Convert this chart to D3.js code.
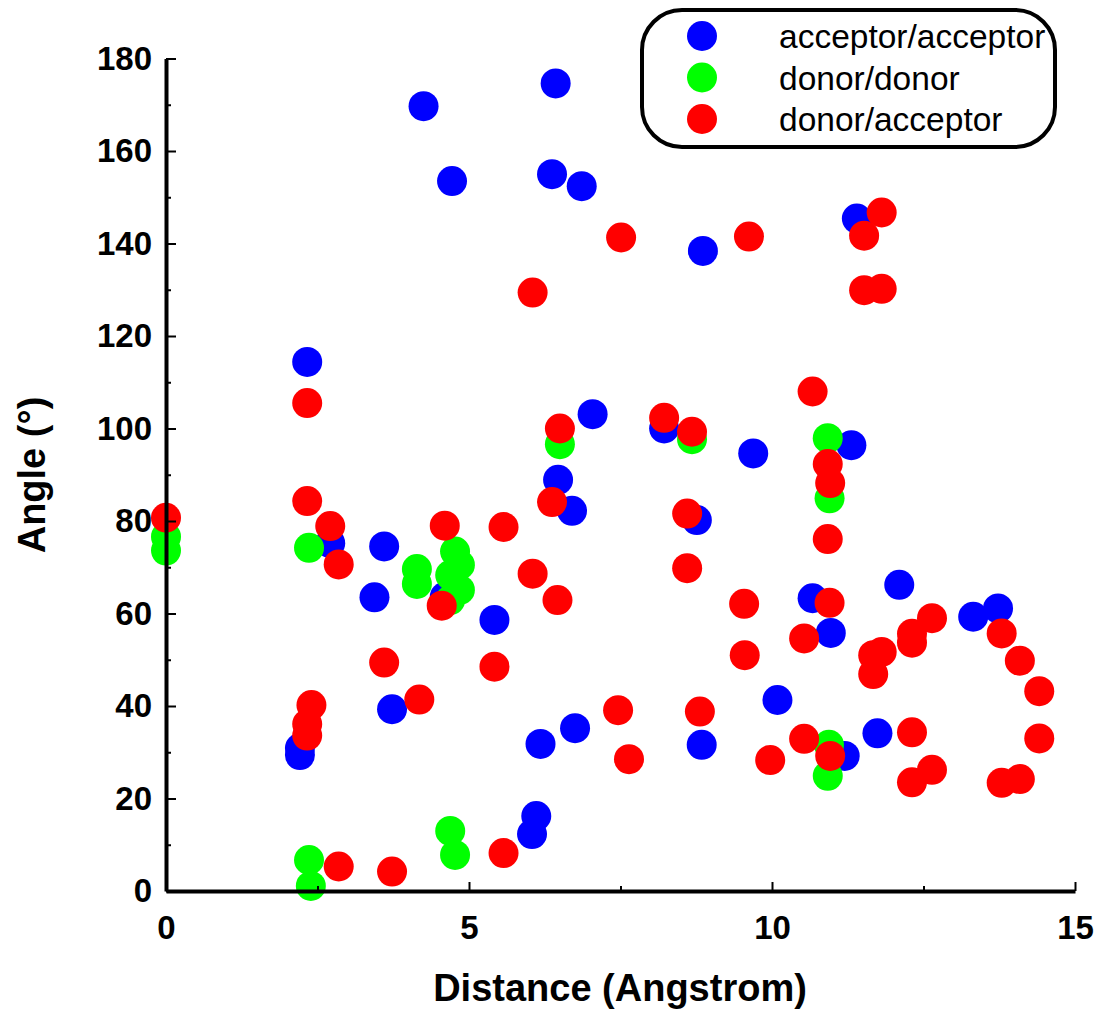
<!DOCTYPE html>
<html>
<head>
<meta charset="utf-8">
<script src="https://cdn.jsdelivr.net/npm/d3@7"></script>
<style>
  html, body { margin: 0; padding: 0; background: #fff; }
  svg { display: block; }
</style>
</head>
<body>
<svg id="chart" width="1099" height="1011"></svg>
<script>
// ---- data: [distance (Angstrom), angle (deg)] ----
const seriesNames = ["acceptor/acceptor", "donor/donor", "donor/acceptor"];
const seriesColors = ["#0000ff", "#00ff00", "#ff0000"];

const acceptorAcceptor = [
  [4.25,169.7],[6.43,174.6],[4.72,153.5],[6.37,155.0],[6.86,152.4],[8.86,138.4],
  [11.40,145.4],[2.33,114.4],[2.71,75.2],[3.60,74.5],[3.44,63.5],[4.60,63.6],
  [7.04,103.1],[8.22,100.0],[9.69,94.6],[6.47,88.9],[6.70,82.2],[8.76,80.2],
  [5.42,58.6],[11.31,96.4],[12.10,66.2],[10.67,63.3],[10.97,55.8],[10.09,41.3],
  [13.32,59.3],[13.73,61.1],[2.21,30.9],[2.21,29.4],[3.73,39.3],[6.18,31.8],
  [6.75,35.2],[6.11,16.2],[6.04,12.3],[8.84,31.6],[11.74,34.1],[11.20,29.2]
];

const donorDonor = [
  [0,76.6],[0,73.6],[2.36,74.2],[4.14,69.6],[4.14,66.4],[4.77,73.4],
  [4.85,70.5],[4.69,68.3],[4.85,65.1],[4.69,62.9],[6.50,96.6],[8.68,97.7],
  [10.92,97.9],[10.95,84.9],[10.94,31.6],[10.92,24.9],[2.36,6.7],[2.39,1.1],
  [4.69,13.0],[4.77,7.8]
];

const donorAcceptor = [
  [7.51,141.3],[9.62,141.5],[6.05,129.4],[11.81,146.7],[11.52,141.7],[11.52,129.9],
  [11.81,130.2],[2.33,105.5],[2.33,84.3],[0,80.7],[2.71,78.9],[2.85,70.6],
  [4.60,79.0],[4.55,61.7],[6.50,100.0],[8.22,102.3],[8.68,99.3],[6.37,84.1],
  [8.60,81.6],[5.57,78.7],[6.05,68.6],[6.46,62.9],[8.60,69.8],[9.54,62.1],
  [10.67,108.0],[10.92,92.3],[10.96,88.2],[10.92,76.1],[10.95,62.3],[10.53,54.6],
  [11.67,51.0],[11.81,51.7],[11.67,46.9],[12.31,55.6],[12.31,53.7],[12.64,59.0],
  [13.79,55.7],[14.09,49.8],[14.41,43.2],[14.41,33.0],[13.79,23.4],[14.09,24.2],
  [12.31,34.3],[12.31,23.5],[12.64,26.2],[10.53,32.9],[10.96,29.2],[9.97,28.3],
  [9.55,51.0],[7.46,39.1],[7.64,28.5],[8.81,38.8],[5.42,48.5],[5.57,8.2],
  [3.60,49.4],[4.18,41.4],[2.40,40.2],[2.33,36.1],[2.33,33.6],[2.85,5.3],[3.73,4.2]
];

const xMajorTicks = [0, 5, 10, 15];
const xMinorTicks = [2.5, 7.5, 12.5];
const yMajorTicks = [0, 20, 40, 60, 80, 100, 120, 140, 160, 180];
const yMinorTicks = [10, 30, 50, 70, 90, 110, 130, 150, 170];

const xTitle = "Distance (Angstrom)";
const yTitle = "Angle (°)";

// ---- drawing ----
const svg = d3.select("#chart");
const x = d3.scaleLinear().domain([0, 15]).range([166, 1075]);
const y = d3.scaleLinear().domain([0, 180]).range([891, 58.5]);
const R = 15;
const FONT = "'Liberation Sans', Arial, Helvetica, sans-serif";

// points (blue, then green, then red on top)
const allSeries = [acceptorAcceptor, donorDonor, donorAcceptor];
allSeries.forEach((data, i) => {
  svg.append("g").selectAll("circle").data(data).join("circle")
    .attr("cx", d => x(d[0]))
    .attr("cy", d => y(d[1]))
    .attr("r", R)
    .attr("fill", seriesColors[i]);
});

// y axis
svg.append("g").attr("transform", `translate(${x(0)},0)`)
  .call(d3.axisLeft(y).tickValues(yMajorTicks).tickSize(-10).tickSizeOuter(0).tickPadding(14));
svg.append("g").attr("transform", `translate(${x(0)},0)`)
  .call(d3.axisLeft(y).tickValues(yMinorTicks).tickSize(-5).tickSizeOuter(0).tickFormat(""))
  .select(".domain").remove();

// x axis
svg.append("g").attr("transform", `translate(0,${y(0)})`)
  .call(d3.axisBottom(x).tickValues(xMajorTicks).tickSize(-9).tickSizeOuter(0).tickPadding(25));
svg.append("g").attr("transform", `translate(0,${y(0)})`)
  .call(d3.axisBottom(x).tickValues(xMinorTicks).tickSize(-5).tickSizeOuter(0).tickFormat(""))
  .select(".domain").remove();

svg.selectAll(".domain").attr("stroke", "#000").attr("stroke-width", 4);
svg.selectAll(".tick line").attr("stroke", "#000").attr("stroke-width", 2);
svg.selectAll(".tick text")
  .attr("font-family", FONT).attr("font-weight", "bold").attr("font-size", 33)
  .attr("fill", "#000");

// axis titles
svg.append("text")
  .attr("x", 620).attr("y", 1001)
  .attr("text-anchor", "middle")
  .attr("font-family", FONT).attr("font-weight", "bold").attr("font-size", 38)
  .text(xTitle);
svg.append("text")
  .attr("transform", "translate(45,475) rotate(-90)")
  .attr("text-anchor", "middle")
  .attr("font-family", FONT).attr("font-weight", "bold").attr("font-size", 38)
  .text(yTitle);

// legend
const legend = svg.append("g");
legend.append("rect")
  .attr("x", 642).attr("y", 10).attr("width", 413).attr("height", 137)
  .attr("rx", 40).attr("ry", 40)
  .attr("fill", "#fff").attr("stroke", "#000").attr("stroke-width", 4);
seriesNames.forEach((name, i) => {
  const cy = 36 + i * 41.5;
  legend.append("circle").attr("cx", 702).attr("cy", cy).attr("r", R).attr("fill", seriesColors[i]);
  legend.append("text")
    .attr("x", 779).attr("y", cy + 12)
    .attr("font-family", FONT).attr("font-size", 33.5)
    .attr("fill", "#000")
    .text(name);
});
</script>
</body>
</html>
